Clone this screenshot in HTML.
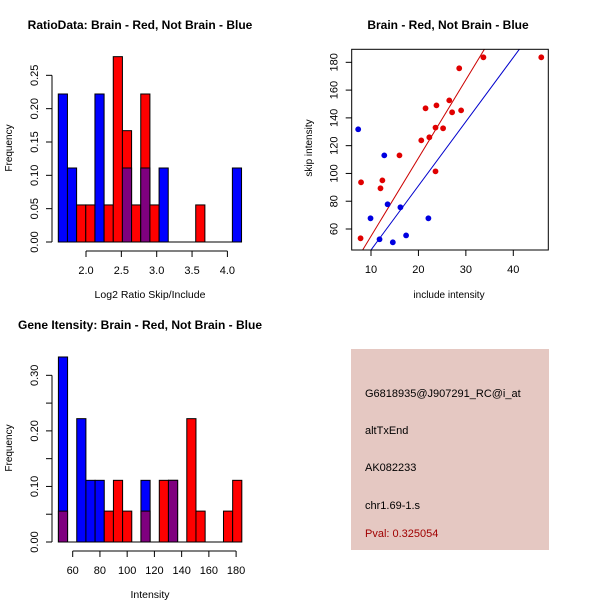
<!DOCTYPE html>
<html><head><meta charset="utf-8">
<style>
html,body{margin:0;padding:0;background:#fff;}
svg{display:block;font-family:"Liberation Sans",Arial,sans-serif;}
</style></head>
<body>
<svg id="chart" width="600" height="600" viewBox="0 0 600 600">
<rect x="0" y="0" width="600" height="600" fill="#fff"/>
<g id="p1"></g>
<g id="p2"></g>
<g id="p3"></g>
<g id="p4">
<rect x="351" y="349" width="198" height="201" fill="#e5c8c2"/>
<text x="365" y="397" font-size="11" fill="#000">G6818935@J907291_RC@i_at</text>
<text x="365" y="434" font-size="11" fill="#000">altTxEnd</text>
<text x="365" y="471" font-size="11" fill="#000">AK082233</text>
<text x="365" y="509" font-size="11" fill="#000">chr1.69-1.s</text>
<text x="365" y="537" font-size="11" fill="#a00000">Pval: 0.325054</text>
</g>
</svg>
<script>
// ---- Ratio histogram data ----
const ratioBinStart = 1.608;
const ratioBinWidth = 0.1296;
const ratioBlue = [0.222,0.111,0,0,0.222,0,0,0.111,0,0.111,0,0.111,0,0,0,0,0,0,0,0.111];
const ratioRed  = [0,0,0.0556,0.0556,0,0.0556,0.278,0.167,0.0556,0.222,0.0556,0,0,0,0,0.0556,0,0,0,0];
const ratioXTicks = [2.0,2.5,3.0,3.5,4.0];
const ratioXTickLabels = ["2.0","2.5","3.0","3.5","4.0"];
const ratioYTicks = [0,0.05,0.10,0.15,0.20,0.25];
const ratioYTickLabels = ["0.00","0.05","0.10","0.15","0.20","0.25"];

// ---- Intensity histogram data ----
const intBinStart = 49.5;
const intBinWidth = 6.735;
const intBlue = [0.333,0,0.222,0.111,0.111,0,0,0,0,0.111,0,0,0.111,0,0,0,0,0,0,0];
const intRed  = [0.0556,0,0,0,0,0.0556,0.111,0.0556,0,0.0556,0,0.111,0.111,0,0.222,0.0556,0,0,0.0556,0.111];
const intXTicks = [60,80,100,120,140,160,180];
const intXTickLabels = ["60","80","100","120","140","160","180"];
const intYTicks = [0,0.05,0.10,0.15,0.20,0.25,0.30];
const intYTickLabels = ["0.00","","0.10","","0.20","","0.30"];

// ---- Scatter data ----
const redX = [7.9,7.8,12.0,12.4,16.0,20.6,21.5,22.3,23.6,23.8,23.6,25.2,26.5,27.1,29.0,28.6,33.7,45.9];
const redY = [93.6,53.3,89.3,95,113,123.8,146.9,126,133,149,101.5,132.5,152.6,144,145.4,175.7,183.6,183.6];
const blueX = [7.3,12.8,9.9,13.5,16.2,22.1,11.8,14.6,17.4];
const blueY = [131.8,113,67.7,77.8,75.6,67.7,52.6,50.4,55.4];
const redFit = [-1.5,5.63];   // intercept, slope
const blueFit = [-1.3,4.62];
const scXTicks = [10,20,30,40];
const scYTicks = [60,80,100,120,140,160,180];

const NS="http://www.w3.org/2000/svg";
function mk(parent,tag,attrs){const e=document.createElementNS(NS,tag);for(const k in attrs)e.setAttribute(k,attrs[k]);parent.appendChild(e);return e;}
function txt(parent,x,y,s,attrs){const e=mk(parent,'text',Object.assign({x:x,y:y,'font-size':11,'text-anchor':'middle',fill:'#000'},attrs||{}));e.textContent=s;return e;}

function histogram(g,o){
  const sx=v=>o.x0+(v-o.xa)*o.kx, sy=v=>o.y0-v*o.ky;
  for(let i=0;i<o.blue.length;i++){
    const l=sx(o.start+i*o.width), r=sx(o.start+(i+1)*o.width);
    const b=o.blue[i], rd=o.red[i];
    const hi=Math.max(b,rd), lo=Math.min(b,rd);
    if(hi>0){
      const c=b>=rd?'#0000ff':'#ff0000';
      const e=mk(g,'rect',{x:l,y:sy(hi),width:r-l,height:sy(0)-sy(hi),fill:c,stroke:'#000','stroke-width':1});
      
      
    }
    if(lo>0){
      const e=mk(g,'rect',{x:l,y:sy(lo),width:r-l,height:sy(0)-sy(lo),fill:'#7f007f',stroke:'#000','stroke-width':1});
      
      
    }
  }
  mk(g,'line',{x1:sx(o.start),x2:sx(o.start+o.blue.length*o.width),y1:sy(0),y2:sy(0),stroke:'#000'});
  const xa=mk(g,'g',{});
  
  const ay=o.y0+9;
  mk(xa,'line',{x1:sx(o.xt[0]),x2:sx(o.xt[o.xt.length-1]),y1:ay,y2:ay,stroke:'#000'});
  o.xt.forEach((v,i)=>{mk(xa,'line',{x1:sx(v),x2:sx(v),y1:ay,y2:ay+6,stroke:'#000'});
    const t=txt(xa,sx(v),ay+23,o.xl[i]);});
  const ya=mk(g,'g',{});
  
  const ax=52;
  mk(ya,'line',{x1:ax,x2:ax,y1:sy(o.yt[0]),y2:sy(o.yt[o.yt.length-1]),stroke:'#000'});
  o.yt.forEach((v,i)=>{mk(ya,'line',{x1:ax-6,x2:ax,y1:sy(v),y2:sy(v),stroke:'#000'});
    if(o.yl[i]){const t=txt(ya,0,0,o.yl[i],{transform:`translate(${ax-14},${sy(v)}) rotate(-90)`});}});
  const tt=txt(g,140,o.titleY,o.title,{'font-weight':'bold','font-size':12});
  
  const xl=txt(g,150,o.xlabY,o.xlab,{'font-size':10.5});
  
  const yl=txt(g,0,0,'Frequency',{transform:`translate(12,${o.ylabY}) rotate(-90)`,'font-size':10});
  
}

histogram(document.getElementById('p1'),{start:ratioBinStart,width:ratioBinWidth,blue:ratioBlue,red:ratioRed,
  xa:2.0,x0:86,kx:70.7,y0:242,ky:666.7,xt:ratioXTicks,xl:ratioXTickLabels,yt:ratioYTicks,yl:ratioYTickLabels,
  title:'RatioData: Brain - Red, Not Brain - Blue',titleY:29,xlab:'Log2 Ratio Skip/Include',xlabY:298,ylabY:148});
histogram(document.getElementById('p3'),{start:intBinStart,width:intBinWidth,blue:intBlue,red:intRed,
  xa:60,x0:72.7,kx:1.3617,y0:542,ky:555.6,xt:intXTicks,xl:intXTickLabels,yt:intYTicks,yl:intYTickLabels,
  title:'Gene Itensity: Brain - Red, Not Brain - Blue',titleY:329,xlab:'Intensity',xlabY:598,ylabY:448});

(function(){
  const g=document.getElementById('p2');
  const L=351.7,R=548.3,T=49.3,B=250;
  const sx=v=>371+(v-10)*4.743, sy=v=>229-(v-60)*1.389;
  const clip=mk(g,'clipPath',{id:'scclip'});mk(clip,'rect',{x:L,y:T,width:R-L,height:B-T});
  const xs0=(L-371)/4.743+10, xs1=(R-371)/4.743+10;
  [[redFit,'#cc0000','fit-line-red'],[blueFit,'#0000cc','fit-line-blue']].forEach(([f,c,n])=>{
    const e=mk(g,'line',{x1:sx(xs0),y1:sy(f[0]+f[1]*xs0),x2:sx(xs1),y2:sy(f[0]+f[1]*xs1),stroke:c,'stroke-width':1,'clip-path':'url(#scclip)'});
    
  });
  redX.forEach((x,i)=>{const e=mk(g,'circle',{cx:sx(x),cy:sy(redY[i]),r:2.9,fill:'#e00000'});
    });
  blueX.forEach((x,i)=>{const e=mk(g,'circle',{cx:sx(x),cy:sy(blueY[i]),r:2.9,fill:'#0000e0'});
    });
  const box=mk(g,'rect',{x:L,y:T,width:R-L,height:B-T,fill:'none',stroke:'#000'});
  
  scXTicks.forEach(v=>{mk(g,'line',{x1:sx(v),x2:sx(v),y1:B,y2:B+6,stroke:'#000'});
    const t=txt(g,sx(v),B+23,String(v));});
  scYTicks.forEach(v=>{mk(g,'line',{x1:L-6,x2:L,y1:sy(v),y2:sy(v),stroke:'#000'});
    const t=txt(g,0,0,String(v),{transform:`translate(${L-14},${sy(v)}) rotate(-90)`});});
  const tt=txt(g,448,29,'Brain - Red, Not Brain - Blue',{'font-weight':'bold','font-size':12});
  
  const xl=txt(g,449,298,'include intensity',{'font-size':10});
  
  const yl=txt(g,0,0,'skip intensity',{transform:'translate(312,148) rotate(-90)','font-size':10});
  
})();
</script>
</body></html>
